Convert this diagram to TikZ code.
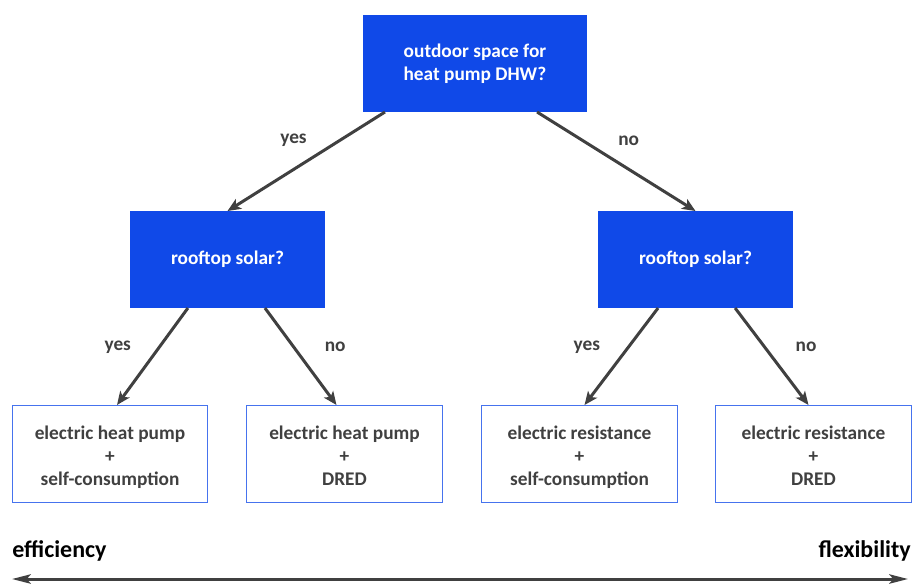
\documentclass[tikz,border=0pt]{standalone}
\usepackage{fontspec}
\setmainfont{Carlito}
\usepackage{tikz}
\usetikzlibrary{arrows.meta,calc}
\definecolor{myblue}{RGB}{16,73,232}
\definecolor{myframe}{RGB}{70,115,238}
\definecolor{mygray}{RGB}{64,64,64}

\begin{document}
\begin{tikzpicture}[x=0.75pt,y=-0.75pt]
	\useasboundingbox (0,0) rectangle (912,583);

	\begin{scope}[every node/.style={fill=myblue,text=white,outer sep=0pt,align=center,
	              font=\bfseries\fontsize{14.5}{17.25}\selectfont,minimum height=72.75pt}]
	    \node (A) [minimum width=168pt] at (475,63.5) {outdoor space for\\heat pump DHW?};
	    \node (B) [minimum width=146.25pt] at (227.5,259.5) {rooftop solar?};
	    \node (C) [minimum width=146.25pt] at (695.5,259.5) {rooftop solar?};
	\end{scope}

	\begin{scope}[every node/.style={draw=myframe,line width=0.75pt,text=mygray,outer sep=0pt,align=center,
	              font=\bfseries\fontsize{14.5}{17.25}\selectfont,minimum height=72.75pt,minimum width=146.5pt,
	              text height=50pt,text depth=2pt}]
	    \node (D) at (110,453.5) {electric heat pump\\+\\self-consumption};
	    \node (E) at (344.5,453.5) {electric heat pump\\+\\DRED};
	    \node (F) at (579.5,453.5) {electric resistance\\+\\self-consumption};
	    \node (G) at (813.5,453.5) {electric resistance\\+\\DRED};
	\end{scope}

	\begin{scope}[>={Stealth[length=10pt,width=8.5pt,inset=2.5pt]},
	              every edge/.style={draw=mygray,line width=2.25pt},
	              every node/.style={text=mygray,font=\bfseries\fontsize{14.5}{17}\selectfont}]
    	\path [->] ($(A.south west)!0.098!(A.south east)$) edge node[pos=0.29,left=20pt] {yes} (B.north);
    	\path [->] ($(A.south west)!0.777!(A.south east)$) edge node[pos=0.29,right=22pt] {no} (C.north);
    	\path [->] ($(B.south west)!0.297!(B.south east)$) edge node[pos=0.4,left=17pt] {yes} ($(D.north)+(7,0)$);
    	\path [->] ($(B.south west)!0.692!(B.south east)$) edge node[pos=0.4,right=19pt] {no} ($(E.north)+(-8,0)$);
    	\path [->] ($(C.south west)!0.308!(C.south east)$) edge node[pos=0.4,left=17pt] {yes} ($(F.north)+(5,0)$);
    	\path [->] ($(C.south west)!0.703!(C.south east)$) edge node[pos=0.4,right=19pt] {no} ($(G.north)+(-5,0)$);
	\end{scope}

	% scale along the bottom
	\node (eff) [anchor=west,inner sep=0pt,font=\bfseries\fontsize{18}{20}\selectfont] at (12,551) {efficiency};
	\node (flex) [anchor=east,inner sep=0pt,font=\bfseries\fontsize{18}{20}\selectfont] at (911,551) {flexibility};
	\coordinate (effEnd) at (12,579);
	\coordinate (flexEnd) at (908,579);
	\draw [{Stealth[length=14pt,width=7pt,inset=3pt]}-{Stealth[length=14pt,width=7pt,inset=3pt]},draw=mygray,line width=2.25pt] (effEnd) -- (flexEnd);
\end{tikzpicture}
\end{document}
